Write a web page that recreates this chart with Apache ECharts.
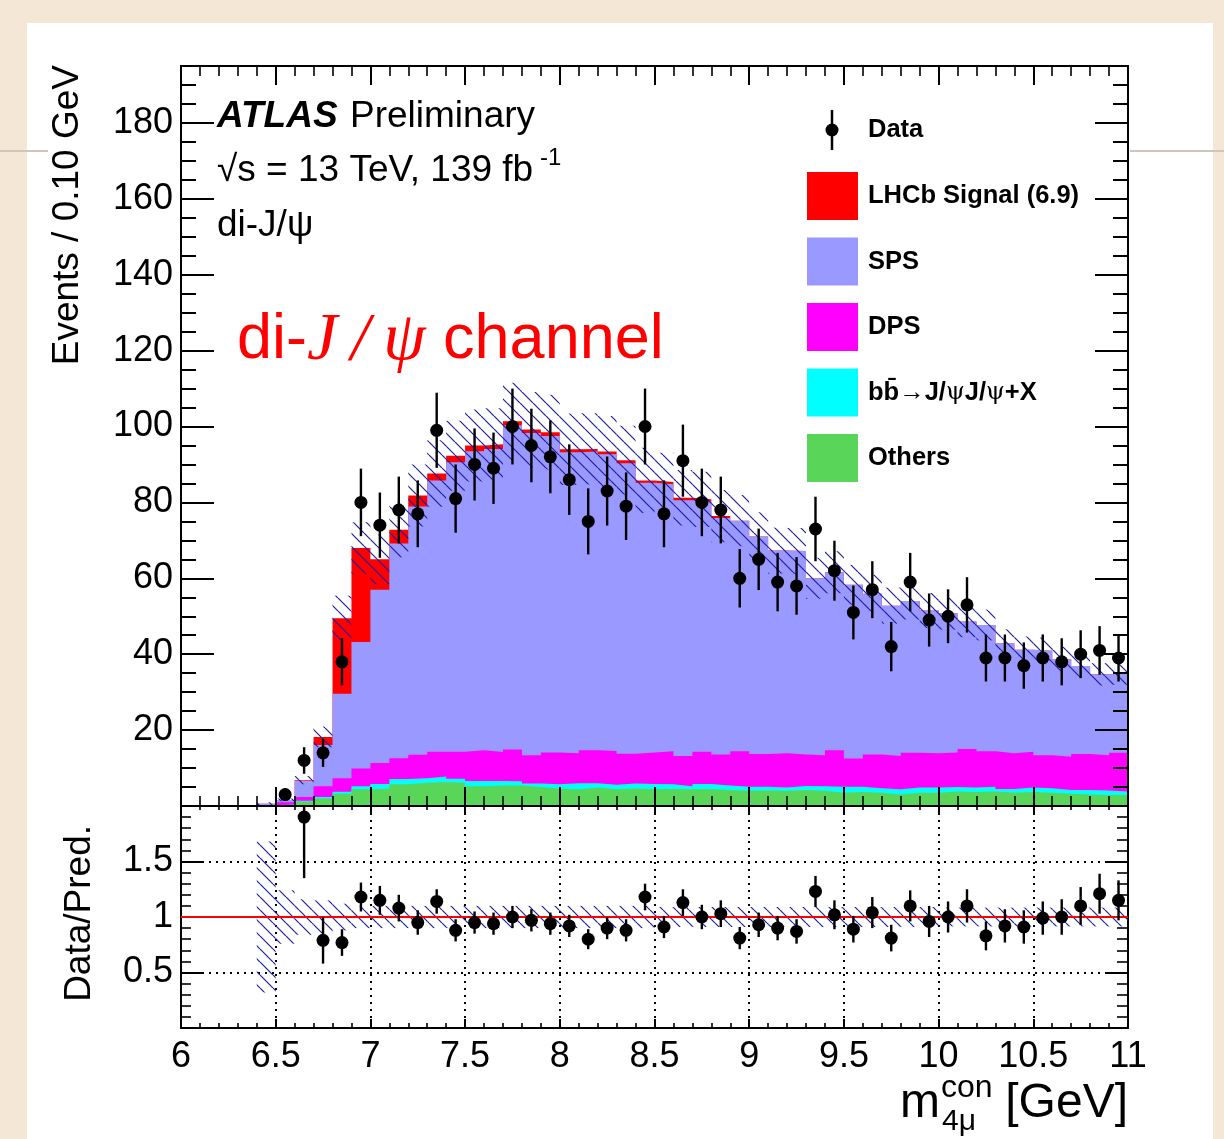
<!DOCTYPE html>
<html>
<head>
<meta charset="utf-8">
<script src="https://cdn.jsdelivr.net/npm/echarts@6/dist/echarts.min.js"></script>
<style>
html, body { margin: 0; padding: 0; background: #f5e7d5; }
#card { position: absolute; left: 27px; top: 23px; width: 1186px; height: 1116px; background: #fff; }
#chart { position: absolute; left: 0; top: 0; width: 1224px; height: 1139px; }
</style>
</head>
<body>
<div id="card"></div>
<div id="chart"></div>
<script>
// bin lower edges, 0.1 GeV wide
const binLow = [6.0, 6.1, 6.2, 6.3, 6.4, 6.5, 6.6, 6.7, 6.8, 6.9,
  7.0, 7.1, 7.2, 7.3, 7.4, 7.5, 7.6, 7.7, 7.8, 7.9,
  8.0, 8.1, 8.2, 8.3, 8.4, 8.5, 8.6, 8.7, 8.8, 8.9,
  9.0, 9.1, 9.2, 9.3, 9.4, 9.5, 9.6, 9.7, 9.8, 9.9,
  10.0, 10.1, 10.2, 10.3, 10.4, 10.5, 10.6, 10.7, 10.8, 10.9];

// stack components (events per bin)
const others = [0, 0, 0, 0, 0.1, 0.3, 1.2, 2.0, 3.2, 4.4,
  4.6, 5.7, 6.1, 6.3, 6.1, 5.2, 5.4, 5.4, 5.0, 4.6,
  4.4, 4.9, 4.4, 4.6, 4.5, 4.5, 4.4, 4.5, 4.2, 4.0,
  4.1, 4.0, 4.2, 4.0, 3.5, 3.7, 3.5, 3.0, 3.5, 3.5,
  3.8, 3.7, 3.8, 3.5, 3.7, 3.5, 3.2, 3.0, 2.9, 2.9];
const bbbar = [0, 0, 0, 0, 0.05, 0.1, 0.2, 0.4, 0.55, 0.8,
  1.2, 1.4, 1.2, 1.5, 1.1, 1.4, 1.2, 1.1, 0.9, 1.1,
  1.6, 1.1, 1.2, 1.3, 1.3, 1.2, 0.8, 1.3, 1.2, 1.1,
  1.0, 0.9, 1.1, 1.2, 1.6, 1.4, 1.2, 1.4, 1.4, 1.4,
  1.2, 1.2, 1.3, 1.0, 1.2, 1.2, 1.0, 1.2, 1.2, 0.9];
const dps = [0, 0, 0, 0, 0.1, 0.6, 1.0, 2.8, 3.55, 4.7,
  5.5, 5.5, 6.2, 6.5, 7.1, 8.1, 7.6, 8.4, 7.5, 8.4,
  7.9, 8.7, 8.9, 7.9, 8.3, 8.7, 8.0, 8.5, 8.2, 9.3,
  8.6, 9.0, 8.3, 8.2, 9.6, 7.4, 8.9, 8.8, 9.1, 9.0,
  9.1, 10.1, 9.3, 9.4, 9.4, 8.7, 8.8, 9.5, 9.3, 10.2];
const sps = [0, 0, 0, 0, 0.35, 0.6, 4.2, 10.9, 22.3, 33.3,
  45.7, 56.6, 65.4, 71.5, 76.3, 78.8, 79.9, 85.4, 84.9, 83.4,
  79.3, 78.7, 78.2, 76.5, 71.1, 70.4, 67.4, 65.9, 62.3, 60.8,
  57.3, 53.4, 53.6, 46.6, 46.9, 45.8, 42.3, 39.6, 40.0, 37.6,
  36.7, 33.6, 33.3, 29.0, 26.9, 27.5, 25.7, 23.2, 21.3, 20.9];
const signal = [0, 0, 0, 0, 0, 0, 0.2, 2.1, 19.9, 24.8,
  8.0, 3.6, 2.9, 1.8, 1.7, 1.5, 1.2, 1.1, 0.9, 1.0,
  0.8, 0.7, 0.7, 0.8, 0.6, 0.6, 0.6, 0.6, 0.5, 0,
  0, 0, 0, 0, 0, 0, 0, 0, 0, 0,
  0, 0, 0, 0, 0, 0, 0, 0, 0, 0];

// data
const dataVals = [null, null, null, null, null, 3, 12, 14, 38, 80,
  74, 78, 77, 99, 81, 90, 89, 100, 95, 92,
  86, 75, 83, 79, 100, 77, 91, 80, 78, 60,
  65, 59, 58, 73, 62, 51, 57, 42, 59, 49,
  50, 53, 39, 39, 37, 39, 38, 40, 41, 39];
const dataErr = [0, 0, 0, 0, 0, 1.7, 3.5, 3.7, 6.2, 8.9,
  8.6, 8.8, 8.8, 9.9, 9.0, 9.5, 9.4, 10, 9.7, 9.6,
  9.3, 8.7, 9.1, 8.9, 10, 8.8, 9.5, 8.9, 8.8, 7.7,
  8.1, 7.7, 7.6, 8.5, 7.9, 7.1, 7.5, 6.5, 7.7, 7.0,
  7.1, 7.3, 6.2, 6.2, 6.1, 6.2, 6.2, 6.3, 6.4, 6.2];

// ratio panel
const ratioVals = [null, null, null, null, null, null, 1.90, 0.79, 0.77, 1.18,
  1.15, 1.08, 0.95, 1.14, 0.88, 0.95, 0.94, 1.00, 0.97, 0.94,
  0.92, 0.80, 0.90, 0.88, 1.18, 0.91, 1.13, 1.00, 1.03, 0.81,
  0.93, 0.90, 0.87, 1.23, 1.02, 0.89, 1.04, 0.81, 1.10, 0.96,
  1.00, 1.10, 0.83, 0.92, 0.91, 0.99, 1.00, 1.10, 1.21, 1.15];
const ratioErr = [0, 0, 0, 0, 0, 0, 0.55, 0.21, 0.12, 0.13,
  0.13, 0.12, 0.11, 0.11, 0.10, 0.10, 0.10, 0.10, 0.10, 0.10,
  0.10, 0.09, 0.10, 0.10, 0.12, 0.10, 0.12, 0.11, 0.12, 0.10,
  0.11, 0.11, 0.11, 0.14, 0.13, 0.12, 0.14, 0.12, 0.14, 0.14,
  0.14, 0.15, 0.13, 0.15, 0.15, 0.15, 0.16, 0.17, 0.18, 0.18];

// relative uncertainty of the prediction
const bandRel = [0, 0, 0, 0, 0.68, 0.24, 0.16, 0.15, 0.12, 0.10,
  0.10, 0.10, 0.10, 0.10, 0.10, 0.10, 0.10, 0.10, 0.10, 0.10,
  0.10, 0.10, 0.10, 0.10, 0.10, 0.09, 0.09, 0.09, 0.09, 0.09,
  0.09, 0.09, 0.09, 0.09, 0.09, 0.09, 0.09, 0.09, 0.09, 0.09,
  0.085, 0.085, 0.085, 0.085, 0.085, 0.085, 0.085, 0.085, 0.085, 0.085];

const names = ['Others', 'bb\u0304\u2192J/\u03c8J/\u03c8+X', 'DPS', 'SPS', 'LHCb Signal (6.9)'];
const colors = ['#59d659', '#00ffff', '#ff00ff', '#9999ff', '#ff0000'];
const FONT = 'Liberation Sans';

// cumulative stack tops
const layers = [others, bbbar, dps, sps, signal];
const cum = [];
let run = binLow.map(() => 0);
layers.forEach(l => { run = run.map((v, i) => v + l[i]); cum.push(run); });
const pred = cum[4];

function makeHatch() {
  const s = 13, c = document.createElement('canvas');
  c.width = s; c.height = s;
  const g = c.getContext('2d');
  g.strokeStyle = '#1c1ca8';
  g.lineWidth = 1.2;
  g.beginPath();
  [-s, 0, s].forEach(o => { g.moveTo(o, 0); g.lineTo(o + s, s); });
  g.stroke();
  return c;
}
const hatch = { image: makeHatch(), repeat: 'repeat' };

function hatchRect(params, api) {
  const a = api.coord([api.value(0), api.value(3)]);
  const b = api.coord([api.value(1), api.value(2)]);
  return {
    type: 'rect',
    shape: { x: a[0], y: a[1], width: b[0] - a[0], height: b[1] - a[1] },
    style: { fill: hatch }
  };
}
function errBar(params, api) {
  const x = api.value(0), y = api.value(1), e = api.value(2);
  const p1 = api.coord([x, y + e]), p2 = api.coord([x, y - e]);
  const cs = params.coordSys;
  return {
    type: 'line',
    shape: { x1: p1[0], y1: Math.max(p1[1], cs.y), x2: p1[0], y2: Math.min(p2[1], cs.y + cs.height) },
    style: { stroke: '#000', lineWidth: 2.4 }
  };
}

const stepSeries = [4, 3, 2, 1, 0].map(k => ({
  name: names[k],
  type: 'line',
  step: 'end',
  xAxisIndex: 0, yAxisIndex: 0,
  symbol: 'none',
  color: colors[k],
  lineStyle: { width: 0, opacity: 0 },
  areaStyle: { color: colors[k], opacity: 1 },
  z: 2,
  data: binLow.map((x, i) => [x, cum[k][i]]).concat([[11, cum[k][49]]])
}));

const bandMain = binLow.map((x, i) => [x, x + 0.1, pred[i] * (1 - bandRel[i]), pred[i] * (1 + bandRel[i])]).filter((d, i) => pred[i] > 0);
const bandRatio = binLow.map((x, i) => [x, x + 0.1, 1 - bandRel[i], 1 + bandRel[i]]).filter((d, i) => pred[i] > 0);
const pts = binLow.map((x, i) => [+(x + 0.05).toFixed(2), dataVals[i], dataErr[i]]).filter(d => d[1] !== null);
const rpts = binLow.map((x, i) => [+(x + 0.05).toFixed(2), ratioVals[i], ratioErr[i]]).filter(d => d[1] !== null);

const black = { color: '#000', width: 2 };
function xAx(grid, pos, major, minor, labels, split) {
  return {
    type: 'value', gridIndex: grid, position: pos, min: 6, max: 11, interval: 0.5, z: 10,
    axisLine: { onZero: false, lineStyle: black },
    axisTick: { inside: true, length: major, lineStyle: black },
    minorTick: { show: true, splitNumber: 5, length: minor, lineStyle: { color: '#000', width: 1.6 } },
    axisLabel: { show: labels, margin: 11, color: '#000', fontFamily: FONT, fontSize: 36 },
    splitLine: { show: split, lineStyle: { color: '#000', width: 2, type: [2, 5] } }
  };
}
function yAx(grid, pos, min, max, interval, major, opts) {
  return Object.assign({
    type: 'value', gridIndex: grid, position: pos, min: min, max: max, interval: interval, z: 10,
    axisLine: { show: true, onZero: false, lineStyle: black },
    axisTick: { show: true, inside: true, length: major, lineStyle: black },
    axisLabel: { show: false },
    splitLine: { show: false }
  }, opts || {});
}
const yLabel = { show: true, margin: 8, color: '#000', fontFamily: FONT, fontSize: 36, showMinLabel: false, showMaxLabel: false };

function txt(x, y, text, font, align, extra) {
  return Object.assign({
    type: 'text', x: x, y: y, z: 20,
    style: { text: text, font: font, fill: '#000', align: align, verticalAlign: 'middle', textAlign: align, textVerticalAlign: 'middle' }
  }, extra || {});
}

const chart = echarts.init(document.getElementById('chart'));
chart.setOption({
  animation: false,
  backgroundColor: 'transparent',
  grid: [
    { left: 181, top: 66, width: 947, height: 740 },
    { left: 181, top: 806, width: 947, height: 222 }
  ],
  xAxis: [
    xAx(0, 'bottom', 19, 10, false, false),
    xAx(0, 'top', 19, 10, false, false),
    xAx(1, 'bottom', 9, 5, true, true),
    xAx(1, 'top', 7, 4, false, false)
  ],
  yAxis: [
    yAx(0, 'left', 0, 195, 20, 33, { axisLabel: yLabel }),
    yAx(0, 'left', 0, 195, 5, 15),
    yAx(0, 'right', 0, 195, 20, 33),
    yAx(0, 'right', 0, 195, 5, 15),
    yAx(1, 'left', 0, 2, 0.5, 21, {
      axisLabel: yLabel,
      minorTick: { show: true, splitNumber: 5, length: 10, lineStyle: { color: '#000', width: 1.6 } },
      splitLine: { show: true, lineStyle: { color: '#000', width: 2, type: [2, 5] } }
    }),
    yAx(1, 'right', 0, 2, 0.5, 23, {
      minorTick: { show: true, splitNumber: 5, length: 11, lineStyle: { color: '#000', width: 1.6 } }
    })
  ],
  legend: {
    orient: 'vertical', left: 807, top: 172, padding: 0,
    itemWidth: 51, itemHeight: 48, itemGap: 17.5,
    selectedMode: false, icon: 'rect',
    textStyle: {
      fontFamily: FONT, fontWeight: 'bold', fontSize: 25.5, color: '#000', padding: [0, 0, 0, 5],
      rich: { p: { fontFamily: 'DejaVu Serif', fontWeight: 'normal', fontSize: 24, color: '#000' } }
    },
    formatter: n => n === names[1] ? 'bb\u0304\u2192J/{p|\u03c8}J/{p|\u03c8}+X' : n,
    data: [4, 3, 2, 1, 0].map(k => ({ name: names[k], itemStyle: { color: colors[k] } }))
  },
  series: stepSeries.concat([
    { type: 'custom', xAxisIndex: 0, yAxisIndex: 0, z: 3, renderItem: hatchRect,
      encode: { x: [0, 1], y: [2, 3] }, data: bandMain },
    { type: 'custom', xAxisIndex: 0, yAxisIndex: 0, z: 4, renderItem: errBar,
      encode: { x: 0, y: 1 }, data: pts },
    { type: 'scatter', xAxisIndex: 0, yAxisIndex: 0, z: 5, symbolSize: 13,
      itemStyle: { color: '#000', opacity: 1 }, data: pts.map(d => [d[0], d[1]]) },
    { type: 'custom', xAxisIndex: 2, yAxisIndex: 4, z: 11, renderItem: hatchRect,
      encode: { x: [0, 1], y: [2, 3] }, data: bandRatio },
    { type: 'line', xAxisIndex: 2, yAxisIndex: 4, z: 12, symbol: 'none',
      lineStyle: { color: '#ff0000', width: 2 }, data: [[6, 1], [11, 1]] },
    { type: 'custom', xAxisIndex: 2, yAxisIndex: 4, z: 13, renderItem: errBar,
      encode: { x: 0, y: 1 }, data: rpts },
    { type: 'scatter', xAxisIndex: 2, yAxisIndex: 4, z: 14, symbolSize: 13,
      itemStyle: { color: '#000', opacity: 1 }, data: rpts.map(d => [d[0], d[1]]) }
  ]),
  graphic: [
    { type: 'line', shape: { x1: 0, y1: 151, x2: 48, y2: 151 }, style: { stroke: '#cfc6bb', lineWidth: 2 }, z: 0 },
    { type: 'line', shape: { x1: 1130, y1: 151, x2: 1224, y2: 151 }, style: { stroke: '#cfc6bb', lineWidth: 2 }, z: 0 },
    txt(68, 65, 'Events / 0.10 GeV', '37px "Liberation Sans"', 'right', { rotation: Math.PI / 2 }),
    txt(80, 825, 'Data/Pred.', '37px "Liberation Sans"', 'right', { rotation: Math.PI / 2 }),
    txt(1128, 1104, '[GeV]', '48px "Liberation Sans"', 'right'),
    txt(940, 1104, 'm', '48px "Liberation Sans"', 'right'),
    txt(941, 1088, 'con', '32px "Liberation Sans"', 'left'),
    txt(942, 1122, '4\u03bc', '30px "Liberation Sans"', 'left'),
    txt(217, 117, 'ATLAS', 'italic bold 37px "Liberation Sans"', 'left'),
    txt(350, 117, 'Preliminary', '37px "Liberation Sans"', 'left'),
    txt(217, 171, '\u221As = 13 TeV, 139 fb', '37px "Liberation Sans"', 'left'),
    txt(540, 158, '-1', '24px "Liberation Sans"', 'left'),
    txt(217, 226, 'di-J/\u03c8', '37px "Liberation Sans"', 'left'),
    { type: 'text', x: 237, y: 341, z: 20,
      style: {
        text: '{a|di-}{b|J\u2009/\u2009\u03c8}{a| channel}', fill: '#ff0000', align: 'left', verticalAlign: 'middle', textAlign: 'left', textVerticalAlign: 'middle',
        rich: {
          a: { fontFamily: FONT, fontSize: 63, fill: '#ff0000', color: '#ff0000' },
          b: { fontFamily: 'Liberation Serif', fontStyle: 'italic', fontSize: 68, fill: '#ff0000', color: '#ff0000' }
        }
      } },
    { type: 'line', shape: { x1: 832, y1: 110, x2: 832, y2: 150 }, style: { stroke: '#000', lineWidth: 2.5 }, z: 20 },
    { type: 'circle', shape: { cx: 832, cy: 130, r: 6.5 }, style: { fill: '#000' }, z: 20 },
    txt(868, 130, 'Data', 'bold 25.5px "Liberation Sans"', 'left')
  ]
});
</script>
</body>
</html>
